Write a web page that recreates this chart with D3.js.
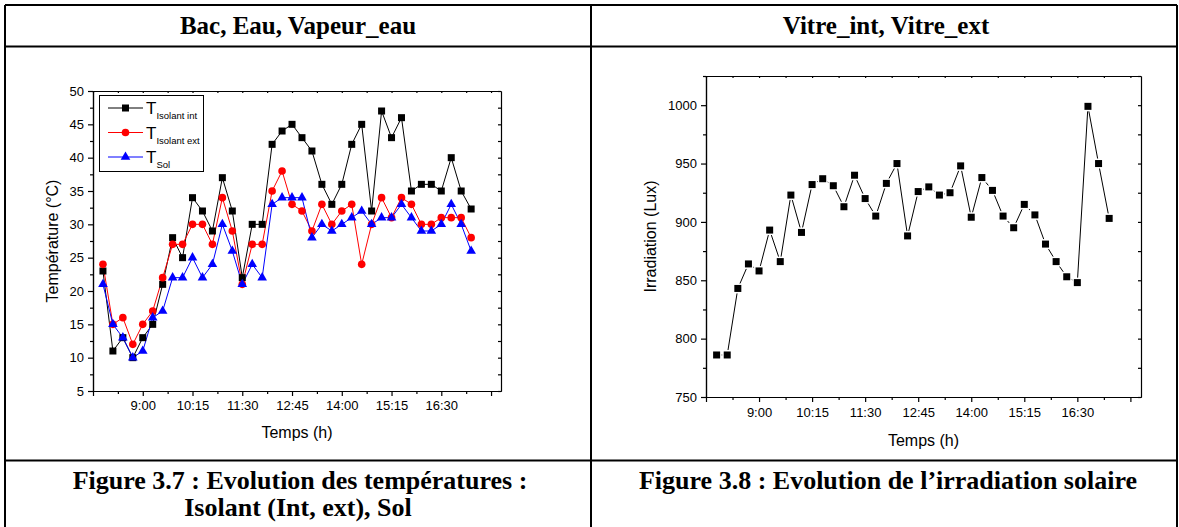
<!DOCTYPE html>
<html>
<head>
<meta charset="utf-8">
<script src="https://cdn.jsdelivr.net/npm/d3@7/dist/d3.min.js"></script>
<style>
    body { margin: 0; background: #fff; }
    svg { display: block; }
    .axis text { font-family: Arial, "Liberation Sans", sans-serif; font-size: 13px; fill: #000; }
    .axis path, .axis line { stroke: #000; stroke-width: 1.2; }
    .title { font-family: "Liberation Serif", "Times New Roman", serif; font-weight: bold; fill: #000; }
    .label { font-family: Arial, "Liberation Sans", sans-serif; font-size: 16px; fill: #000; }
</style>
</head>
<body>
<svg id="page" width="1179" height="527"></svg>
<script>
/* global d3 */

// Data
// --------------------
// Measurement times, one every 15 minutes
const times = ["8:00", "8:15", "8:30", "8:45", "9:00", "9:15", "9:30", "9:45",
    "10:00", "10:15", "10:30", "10:45", "11:00", "11:15", "11:30", "11:45",
    "12:00", "12:15", "12:30", "12:45", "13:00", "13:15", "13:30", "13:45",
    "14:00", "14:15", "14:30", "14:45", "15:00", "15:15", "15:30", "15:45",
    "16:00", "16:15", "16:30", "16:45", "17:00", "17:15"];

// Figure 3.7 series (°C)
const tIsolantInt = [23, 11, 13, 10, 13, 15, 21, 28, 25, 34, 32, 29, 37, 32, 22, 30, 30, 42, 44, 45,
    43, 41, 36, 33, 36, 42, 45, 32, 47, 43, 46, 35, 36, 36, 35, 40, 35, 32.3];
const tIsolantExt = [24, 15, 16, 12, 15, 17, 22, 27, 27, 30, 30, 27, 34, 29, 21, 27, 27, 35, 38, 33,
    32, 29, 33, 30, 32, 33, 24, 30, 34, 31, 34, 33, 30, 30, 31, 31, 31, 28];
const tSol = [21, 15, 13, 10, 11, 16, 17, 22, 22, 25, 22, 24, 30, 26, 21, 24, 22, 33, 34, 34,
    34, 28, 30, 29, 30, 31, 32, 30, 31, 31, 33, 31, 29, 29, 30, 33, 30, 26];

// Figure 3.8 series (Lux)
const irradiation = [786, 786, 843, 864, 858, 893, 866, 923, 891, 932, 937, 931, 913, 940, 920, 905,
    933, 950, 888, 926, 930, 923, 925, 948, 904, 938, 927, 905, 895, 915, 906, 881, 866, 853, 848,
    999, 950, 903];

// Axis ticks
const xDomain = ["7:45", "18:00"];
const xMajorTicks = ["7:45", "9:00", "10:15", "11:30", "12:45", "14:00", "15:15", "16:30", "17:45"];
const xTickLabels = ["9:00", "10:15", "11:30", "12:45", "14:00", "15:15", "16:30"];
const tempDomain = [5, 50];
const tempTicks = [5, 10, 15, 20, 25, 30, 35, 40, 45, 50];
const irrDomain = [750, 1025];
const irrTicks = [750, 800, 850, 900, 950, 1000];

// Texts
const headers = ["Bac, Eau, Vapeur_eau", "Vitre_int, Vitre_ext"];
const legendNames = ["Isolant int", "Isolant ext", "Sol"];

// Helpers
// --------------------
const toMin = s => { const p = s.split(":"); return +p[0] * 60 + +p[1]; };
const midpoints = arr => arr.slice(1).map((v, i) => (arr[i] + v) / 2);

var svg = d3.select("#page");

// Table frame
// --------------------
var frame = svg.append("g").attr("id", "frame")
    .attr("stroke", "#000")
    .attr("stroke-width", 2);
[[5, 5, 1177, 5], [5, 46.5, 1177, 46.5], [5, 460.5, 1177, 460.5],
 [5, 5, 5, 527], [591, 5, 591, 527], [1177, 5, 1177, 527]].forEach(l => {
    frame.append("line")
        .attr("x1", l[0]).attr("y1", l[1])
        .attr("x2", l[2]).attr("y2", l[3]);
});

svg.append("text").attr("class", "title")
    .attr("x", 298).attr("y", 34)
    .attr("text-anchor", "middle")
    .attr("font-size", 25)
    .text(headers[0]);
svg.append("text").attr("class", "title")
    .attr("x", 886).attr("y", 34)
    .attr("text-anchor", "middle")
    .attr("font-size", 25)
    .text(headers[1]);

svg.append("text").attr("class", "title")
    .attr("x", 300).attr("y", 489)
    .attr("text-anchor", "middle")
    .attr("font-size", 26)
    .text("Figure 3.7 : Evolution des températures :");
svg.append("text").attr("class", "title")
    .attr("x", 298).attr("y", 516)
    .attr("text-anchor", "middle")
    .attr("font-size", 26)
    .text("Isolant (Int, ext), Sol");
svg.append("text").attr("class", "title")
    .attr("x", 888).attr("y", 489)
    .attr("text-anchor", "middle")
    .attr("font-size", 26)
    .text("Figure 3.8 : Evolution de l\u2019irradiation solaire");

/**
 * Draw axes box with Origin-like ticks
 * @param {object} box pixel bounds {l, r, t, b}
 * @returns {object} scales
 */
function drawAxes(box, yDomain, yMajor, yTitle, yTitleX, xTitleY, xLabelY) {
    var x = d3.scaleLinear()
        .domain(xDomain.map(toMin))
        .range([box.l, box.r]);
    var y = d3.scaleLinear()
        .domain(yDomain)
        .range([box.b, box.t]);

    var xMajor = xMajorTicks.map(toMin);
    var xMinor = midpoints(xMajor);
    var yMinor = midpoints(yMajor).concat(yMajor[yMajor.length - 1] + (yMajor[1] - yMajor[0]) / 2)
        .filter(v => v <= yDomain[1]);
    var labelled = xTickLabels.map(toMin);
    var fmt = m => labelled.indexOf(m) >= 0 ? Math.floor(m / 60) + ":" + String(m % 60).padStart(2, "0") : "";

    var g = svg.append("g");

    // bottom
    g.append("g").attr("class", "axis")
        .attr("transform", `translate(0,${box.b})`)
        .call(d3.axisBottom(x).tickValues(xMinor).tickSizeOuter(0).tickSizeInner(3).tickFormat(""));
    var bx = g.append("g").attr("class", "axis")
        .attr("transform", `translate(0,${box.b})`)
        .call(d3.axisBottom(x).tickValues(xMajor).tickSizeOuter(0).tickSizeInner(5).tickFormat(fmt));
    bx.selectAll("text").attr("y", xLabelY);
    // top
    g.append("g").attr("class", "axis")
        .attr("transform", `translate(0,${box.t})`)
        .call(d3.axisTop(x).tickValues(xMajor.concat(xMinor)).tickSizeOuter(0).tickSizeInner(-2).tickFormat(""));
    // left
    g.append("g").attr("class", "axis")
        .attr("transform", `translate(${box.l},0)`)
        .call(d3.axisLeft(y).tickValues(yMinor).tickSizeOuter(0).tickSizeInner(3).tickFormat(""));
    g.append("g").attr("class", "axis")
        .attr("transform", `translate(${box.l},0)`)
        .call(d3.axisLeft(y).tickValues(yMajor).tickSizeOuter(0).tickSizeInner(5).tickPadding(4)
            .tickFormat(d3.format("d")));
    // right
    g.append("g").attr("class", "axis")
        .attr("transform", `translate(${box.r},0)`)
        .call(d3.axisRight(y).tickValues(yMajor.concat(yMinor)).tickSizeOuter(0).tickSizeInner(-3).tickFormat(""));

    // titles
    g.append("text").attr("class", "label")
        .attr("transform", `translate(${yTitleX},${(box.t + box.b) / 2}) rotate(-90)`)
        .attr("text-anchor", "middle")
        .text(yTitle);
    g.append("text").attr("class", "label")
        .attr("x", (box.l + box.r) / 2)
        .attr("y", xTitleY)
        .attr("text-anchor", "middle")
        .text("Temps (h)");

    return { x: x, y: y };
}

// Figure 3.7
// --------------------
var s1 = drawAxes({ l: 93, r: 501, t: 91, b: 391 }, tempDomain, tempTicks, "Température (°C)", 58, 438, 10);

var series = [
    { values: tIsolantInt, color: "#000000", shape: "square" },
    { values: tIsolantExt, color: "#ff0000", shape: "circle" },
    { values: tSol, color: "#0000ff", shape: "triangle" }
];

var line1 = d3.line()
    .x((d, i) => s1.x(toMin(times[i])))
    .y(d => s1.y(d));

function marker(sel, shape, color) {
    if (shape === "square") {
        sel.append("rect")
            .attr("x", -3.5).attr("y", -3.5)
            .attr("width", 7).attr("height", 7)
            .attr("fill", color);
    } else if (shape === "circle") {
        sel.append("circle")
            .attr("r", 3.8)
            .attr("fill", color);
    } else {
        sel.append("path")
            .attr("d", d3.symbol(d3.symbolTriangle, 40)())
            .attr("fill", color);
    }
}

series.forEach(s => {
    svg.append("path")
        .datum(s.values)
        .attr("d", line1)
        .attr("fill", "none")
        .attr("stroke", s.color)
        .attr("stroke-width", 1);
});
series.forEach(s => {
    svg.append("g").selectAll("g")
        .data(s.values)
        .enter().append("g")
        .attr("transform", (d, i) => `translate(${s1.x(toMin(times[i]))},${s1.y(d)})`)
        .each(function () { marker(d3.select(this), s.shape, s.color); });
});

// Legend
var legend = svg.append("g").attr("id", "legend");
legend.append("rect")
    .attr("x", 99.5).attr("y", 95.5)
    .attr("width", 104).attr("height", 76)
    .attr("fill", "#fff")
    .attr("stroke", "#000")
    .attr("stroke-width", 1);
series.forEach((s, i) => {
    var yy = 108 + i * 24.5;
    legend.append("line")
        .attr("x1", 108).attr("x2", 143)
        .attr("y1", yy).attr("y2", yy)
        .attr("stroke", s.color);
    marker(legend.append("g").attr("transform", `translate(125.5,${yy})`), s.shape, s.color);
    var t = legend.append("text")
        .attr("x", 146).attr("y", yy + 6)
        .attr("font-family", "Arial, 'Liberation Sans', sans-serif")
        .attr("font-size", 17)
        .text("T");
    t.append("tspan")
        .attr("dy", 5)
        .attr("font-size", 9.5)
        .text(legendNames[i]);
});

// Figure 3.8
// --------------------
var s2 = drawAxes({ l: 706, r: 1141, t: 76, b: 397 }, irrDomain, irrTicks, "Irradiation (Lux)", 656, 446, 11);

var line2 = d3.line()
    .x((d, i) => s2.x(toMin(times[i])))
    .y(d => s2.y(d));

svg.append("path")
    .datum(irradiation)
    .attr("d", line2)
    .attr("fill", "none")
    .attr("stroke", "#000")
    .attr("stroke-width", 1);

var pts = svg.append("g").selectAll("g")
    .data(irradiation)
    .enter().append("g")
    .attr("transform", (d, i) => `translate(${s2.x(toMin(times[i]))},${s2.y(d)})`);
pts.append("rect")
    .attr("x", -5).attr("y", -5)
    .attr("width", 10).attr("height", 10)
    .attr("fill", "#fff");
pts.append("rect")
    .attr("x", -3.5).attr("y", -3.5)
    .attr("width", 7).attr("height", 7)
    .attr("fill", "#000");
</script>
</body>
</html>
